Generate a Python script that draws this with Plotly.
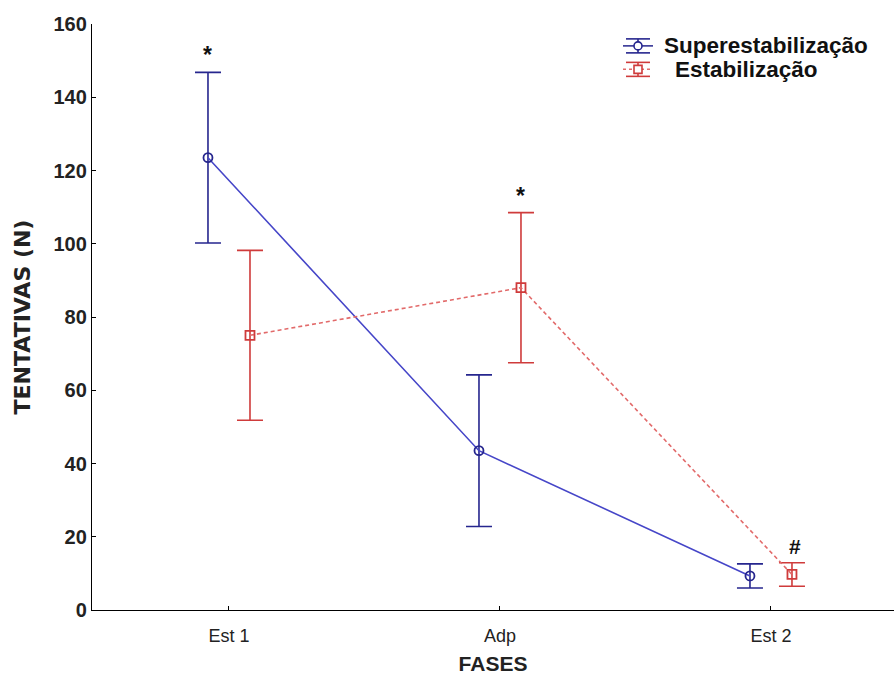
import numpy as np
import plotly.graph_objects as go

# Phases on the x axis
categories = ["Est 1", "Adp", "Est 2"]

# Mean number of attempts and error-bar half-lengths per group
super_mean = [123.5, 43.5, 9.3]
super_err = [23.3, 20.7, 3.3]
estab_mean = [75.0, 88.0, 9.7]
estab_err = [23.2, 20.5, 3.2]

# Significance marks placed above the error bars: (group, phase index, text)
sig_marks = [("super", 0, "*"), ("estab", 1, "*"), ("estab", 2, "#")]

y_ticks = [0, 20, 40, 60, 80, 100, 120, 140, 160]

BLUE_LINE = "#4646c8"
BLUE_DARK = "#26268e"
RED_LINE = "#e26a6a"
RED_DARK = "#cf3b3b"

FONT = "Liberation Sans, Arial, sans-serif"

offset = 0.0775
base = np.arange(len(categories))
x_super = base - offset
x_estab = base + offset

fig = go.Figure()

fig.add_trace(go.Scatter(
    x=x_super, y=super_mean, mode="lines+markers", name="Superestabilização",
    line=dict(color=BLUE_LINE, width=1.6),
    marker=dict(symbol="circle-open", size=9, color=BLUE_DARK, line=dict(width=1.8)),
    error_y=dict(type="data", array=super_err, visible=True,
                 color=BLUE_DARK, thickness=1.6, width=13),
    showlegend=False,
))
fig.add_trace(go.Scatter(
    x=x_estab, y=estab_mean, mode="lines+markers", name="Estabilização",
    line=dict(color=RED_LINE, width=1.6, dash="4px,3px"),
    marker=dict(symbol="square-open", size=9, color=RED_DARK, line=dict(width=1.8)),
    error_y=dict(type="data", array=estab_err, visible=True,
                 color=RED_DARK, thickness=1.6, width=13),
    showlegend=False,
))

# Significance annotations
for grp, idx, txt in sig_marks:
    if grp == "super":
        xv, yv = x_super[idx], super_mean[idx] + super_err[idx]
    else:
        xv, yv = x_estab[idx], estab_mean[idx] + estab_err[idx]
    fig.add_annotation(x=xv, y=yv, text=f"<b>{txt}</b>", showarrow=False,
                       yanchor="bottom", yshift=2 if txt == "*" else 3,
                       xshift=3 if txt == "#" else 0,
                       font=dict(family=FONT, size=23 if txt == "*" else 21, color="#111"))

# Hand-built legend with error-bar style keys (paper coordinates)
L, T, W, H = 92, 23.6, 802, 586.4
def px(x):
    return (x - L) / W
def py(y):
    return (T + H - y) / H

legend_rows = [
    ("Superestabilização", BLUE_DARK, BLUE_LINE, "solid", "circle", 45.5, 662),
    ("Estabilização", RED_DARK, RED_LINE, "dot", "square", 69.0, 673),
]
for label, dark, light, dash, sym, cy, tx in legend_rows:
    cx = 638
    fig.add_shape(type="line", xref="paper", yref="paper",
                  x0=px(cx - 15), x1=px(cx + 15), y0=py(cy), y1=py(cy),
                  line=dict(color=light if dash != "solid" else dark, width=1.5, dash=dash))
    for cap in (cy - 7, cy + 7):
        fig.add_shape(type="line", xref="paper", yref="paper",
                      x0=px(cx - 12), x1=px(cx + 12), y0=py(cap), y1=py(cap),
                      line=dict(color=dark, width=1.6))
    fig.add_shape(type="line", xref="paper", yref="paper",
                  x0=px(cx), x1=px(cx), y0=py(cy - 7), y1=py(cy + 7),
                  line=dict(color=dark, width=1.6))
    fig.add_shape(type=sym if sym == "circle" else "rect", xref="paper", yref="paper",
                  x0=px(cx - 4), x1=px(cx + 4), y0=py(cy - 4), y1=py(cy + 4),
                  line=dict(color=dark, width=1.6), fillcolor="white")
    fig.add_annotation(xref="paper", yref="paper", x=px(tx), y=py(cy),
                       xanchor="left", yanchor="middle", showarrow=False,
                       text=f"<b>{label}</b>",
                       font=dict(family=FONT, size=22.5, color="#111"))

fig.update_layout(
    width=894, height=677,
    margin=dict(l=92, r=0, t=23.6, b=677 - 610),
    paper_bgcolor="white", plot_bgcolor="white",
    xaxis=dict(
        range=[-0.5055, 2.454], tickmode="array", tickvals=base, ticktext=categories,
        showgrid=False, zeroline=False, showline=True, linecolor="black", linewidth=1.3,
        ticks="inside", ticklen=4, tickcolor="black",
        tickfont=dict(family=FONT, size=18, color="#222"),
        ticklabelstandoff=9,
        title=dict(text="<b>FASES</b>", font=dict(family=FONT, size=21, color="#222"),
                   standoff=11),
    ),
    yaxis=dict(
        range=[0, 160], tickmode="array", tickvals=y_ticks,
        showgrid=False, zeroline=False, showline=True, linecolor="black", linewidth=1.3,
        ticks="inside", ticklen=4, tickcolor="black",
        tickfont=dict(family=FONT, size=20, color="#222", weight="bold"),
        title=dict(text="<b>TENTATIVAS (N)</b>", font=dict(family="DejaVu Sans", size=22, color="#222"),
                   standoff=16),
    ),
)

fig.write_html("out.html")
